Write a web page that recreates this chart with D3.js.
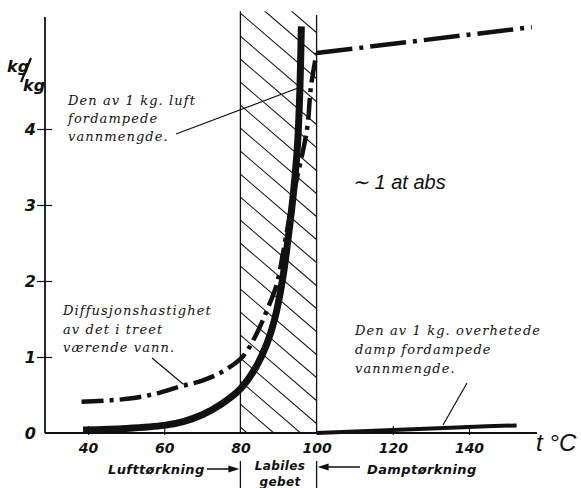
<!DOCTYPE html>
<html>
<head>
<meta charset="utf-8">
<script src="https://cdn.jsdelivr.net/npm/d3@7"></script>
<style>
  body { margin: 0; background: #fff; }
  svg { display: block; }
  .tick-label { font-family: "DejaVu Sans", sans-serif; font-style: italic; font-weight: bold; font-size: 14px; fill: #111; }
  .note { font-family: "DejaVu Serif", serif; font-style: italic; font-size: 13px; letter-spacing: 1.1px; fill: #111; }
  .zone { font-family: "DejaVu Sans", sans-serif; font-style: italic; font-weight: bold; font-size: 13px; letter-spacing: 0.4px; fill: #111; }
</style>
</head>
<body>
<script>
// x ticks (t °C) and y ticks (kg/kg)
var x_ticks = [40, 60, 80, 100, 120, 140];
var y_ticks = [0, 1, 2, 3, 4];

// Den av 1 kg. luft fordampede vannmengde  [t, kg/kg]
var air_curve = [
    [38.7, 0.04], [50, 0.06], [60, 0.1], [65, 0.15], [70, 0.24], [75, 0.38],
    [80, 0.58], [84, 0.86], [87, 1.18], [89, 1.5], [91, 2.0], [92.5, 2.55],
    [94, 3.2], [95, 3.8], [95.6, 4.5], [96, 5.35]
];

// Diffusjonshastighet av det i treet værende vann  [t, kg/kg]
var diffusion_curve = [
    [38.3, 0.41], [46, 0.43], [52, 0.46], [58, 0.52], [64, 0.61], [70, 0.69],
    [75, 0.8], [80.5, 1.0], [84, 1.28], [87, 1.62], [89.5, 1.95], [91.3, 2.4],
    [94, 3.15], [97.5, 4.0], [98.5, 4.55], [100, 5.0]
];
var diffusion_high = [[100, 5.0], [156.5, 5.34]];

// Den av 1 kg. overhetede damp fordampede vannmengde  [t, kg/kg]
var steam_curve = [[100, 0.0], [120, 0.04], [140, 0.08], [152.5, 0.1]];

// Labile zone boundaries
var labile_zone = [80, 100];

var width = 581, height = 488;

var x = d3.scaleLinear().domain([40, 140]).range([88, 469]);
var y = d3.scaleLinear().domain([0, 4]).range([433, 129]);

var svg = d3.select('body').append('svg')
    .attr('width', width)
    .attr('height', height);

var ink = '#111';

// ================================================================================================
// Hatched labile zone
var zx0 = x(labile_zone[0]), zx1 = x(labile_zone[1]);
var ztop = y(5.55);

svg.append('clipPath').attr('id', 'zone-clip')
    .append('rect')
    .attr('x', zx0).attr('y', ztop)
    .attr('width', zx1 - zx0).attr('height', y(0) - ztop);

var hatch = svg.append('g').attr('clip-path', 'url(#zone-clip)');
var step = 23, slope = 0.86;
d3.range(ztop - 90, y(0) + 10, step).forEach(function (y0) {
    hatch.append('line')
        .attr('x1', zx0).attr('y1', y0)
        .attr('x2', zx0 + 200).attr('y2', y0 + 200 * slope)
        .attr('stroke', ink).attr('stroke-width', 1.1);
});

// Zone boundaries (also below the axis as separators)
[zx0, zx1].forEach(function (zx, i) {
    svg.append('line')
        .attr('x1', zx).attr('y1', i ? y(5.5) : ztop)
        .attr('x2', zx).attr('y2', y(0))
        .attr('stroke', ink).attr('stroke-width', 1.3);
    svg.append('line')
        .attr('x1', zx).attr('y1', 461)
        .attr('x2', zx).attr('y2', 488)
        .attr('stroke', ink).attr('stroke-width', 1.3);
});

// ================================================================================================
// Axes
svg.append('line')
    .attr('x1', 45).attr('y1', 17)
    .attr('x2', 45).attr('y2', y(0))
    .attr('stroke', ink).attr('stroke-width', 1.8);
svg.append('line')
    .attr('x1', 45).attr('y1', y(0))
    .attr('x2', 537).attr('y2', y(0))
    .attr('stroke', ink).attr('stroke-width', 1.8);

var yAxis = d3.axisLeft(y).tickValues(y_ticks).tickFormat(d3.format('d')).tickSize(0).tickPadding(0);
var gy = svg.append('g').attr('transform', 'translate(45,0)').call(yAxis);
gy.select('.domain').remove();
gy.selectAll('.tick').each(function (d) {
    var g = d3.select(this);
    g.select('text')
        .attr('class', 'tick-label')
        .attr('x', -9)
        .attr('dy', '0.36em')
        .attr('font-size', null).attr('font-family', null)
        .style('font-size', '16px');
    if (d > 0) {
        g.append('line').attr('x1', -8).attr('x2', 7)
            .attr('stroke', ink).attr('stroke-width', 1.2);
    }
});

var xAxis = d3.axisBottom(x).tickValues(x_ticks).tickFormat(d3.format('d')).tickSize(0).tickPadding(0);
var gx = svg.append('g').attr('transform', 'translate(0,' + y(0) + ')').call(xAxis);
gx.select('.domain').remove();
gx.selectAll('.tick').each(function (d) {
    var g = d3.select(this);
    g.select('text')
        .attr('class', 'tick-label')
        .attr('y', 10)
        .attr('dy', '0.71em')
        .attr('font-size', null).attr('font-family', null);
    if (d !== 80 && d !== 100) {
        g.append('line').attr('y1', -7).attr('y2', 2)
            .attr('stroke', ink).attr('stroke-width', 1.1);
    }
});

// Axis titles
var ky = svg.append('g').attr('class', 'tick-label');
ky.append('text').attr('x', 7).attr('y', 72).style('font-size', '16px').text('kg');
ky.append('text').attr('x', 23).attr('y', 91).style('font-size', '16px').text('kg');
svg.append('line')
    .attr('x1', 21).attr('y1', 82).attr('x2', 31).attr('y2', 58)
    .attr('stroke', ink).attr('stroke-width', 2.2);

svg.append('text')
    .attr('x', 536).attr('y', 451)
    .attr('font-family', '"Liberation Sans", sans-serif')
    .attr('font-style', 'italic')
    .attr('font-size', 24)
    .attr('fill', ink)
    .text('t °C');

svg.append('text')
    .attr('x', 352).attr('y', 189)
    .attr('font-family', '"Liberation Sans", sans-serif')
    .attr('font-style', 'italic')
    .attr('font-size', 20)
    .attr('fill', ink)
    .text('∼ 1 at abs');

// ================================================================================================
// Curves
var line = d3.line()
    .x(function (d) { return x(d[0]); })
    .y(function (d) { return y(d[1]); })
    .curve(d3.curveCatmullRom.alpha(0.5));

svg.append('path')
    .datum(diffusion_curve)
    .attr('d', line)
    .attr('fill', 'none')
    .attr('stroke', ink)
    .attr('stroke-width', 4.5)
    .attr('stroke-dasharray', '22 6 4 6');

svg.append('path')
    .datum(diffusion_high)
    .attr('d', line)
    .attr('fill', 'none')
    .attr('stroke', ink)
    .attr('stroke-width', 4.5)
    .attr('stroke-dasharray', '36 7 4 7');

svg.append('path')
    .datum(air_curve)
    .attr('d', line)
    .attr('fill', 'none')
    .attr('stroke', ink)
    .attr('stroke-width', 7);

svg.append('path')
    .datum(steam_curve)
    .attr('d', line)
    .attr('fill', 'none')
    .attr('stroke', ink)
    .attr('stroke-width', 4);

// ================================================================================================
// Annotations
function note(lines, x0, y0, dy) {
    var t = svg.append('text').attr('class', 'note');
    lines.forEach(function (s, i) {
        t.append('tspan').attr('x', x0).attr('y', y0 + i * dy).text(s);
    });
}

function leader(x1, y1, x2, y2) {
    svg.append('line')
        .attr('x1', x1).attr('y1', y1).attr('x2', x2).attr('y2', y2)
        .attr('stroke', ink).attr('stroke-width', 1.2);
}

note(['Den av 1 kg. luft', 'fordampede', 'vannmengde.'], 68, 105, 18);
leader(176, 134, 298, 88);

note(['Diffusjonshastighet', 'av det i treet', 'værende vann.'], 63, 315, 18.5);
leader(152, 358, 183, 384);

note(['Den av 1 kg. overhetede', 'damp fordampede', 'vannmengde.'], 355, 335, 19);
leader(467, 383, 443, 425);

// Zone labels below the axis
svg.append('text').attr('class', 'zone').attr('x', 108).attr('y', 474).text('Lufttørkning');
svg.append('text').attr('class', 'zone').attr('x', 280).attr('y', 470)
    .attr('text-anchor', 'middle').style('font-size', '12px').text('Labiles');
svg.append('text').attr('class', 'zone').attr('x', 280).attr('y', 486)
    .attr('text-anchor', 'middle').style('font-size', '12px').text('gebet');
svg.append('text').attr('class', 'zone').attr('x', 367).attr('y', 474).text('Damptørkning');

function arrow(xa, xb, yy) {
    var dir = xb > xa ? 1 : -1;
    svg.append('line')
        .attr('x1', xa).attr('y1', yy).attr('x2', xb - dir * 8).attr('y2', yy)
        .attr('stroke', ink).attr('stroke-width', 1.5);
    svg.append('path')
        .attr('d', 'M' + xb + ',' + yy + 'L' + (xb - dir * 11) + ',' + (yy - 3.5) +
              'L' + (xb - dir * 11) + ',' + (yy + 3.5) + 'Z')
        .attr('fill', ink);
}
arrow(207, x(80) - 1, 469);
arrow(360, x(100) + 1, 467);
</script>
</body>
</html>
